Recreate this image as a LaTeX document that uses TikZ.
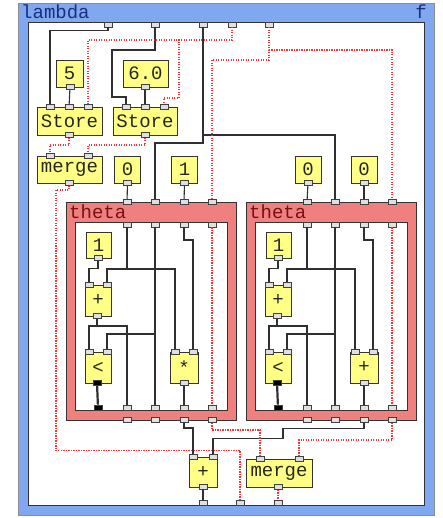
\documentclass[tikz,border=0pt]{standalone}
\usepackage{fontspec}
\setmonofont{Liberation Mono}
\usetikzlibrary{positioning}
\definecolor{LamBlue}{HTML}{7FA8F0}
\definecolor{LamInk}{HTML}{1A2E80}
\definecolor{ThRed}{HTML}{F08080}
\definecolor{ThInk}{HTML}{7A1010}
\definecolor{OpYel}{HTML}{FFFF86}
\definecolor{Wire}{HTML}{303030}
\definecolor{StWire}{HTML}{E83838}

\begin{document}
\begin{tikzpicture}[x=1pt,y=-1pt,font=\ttfamily\fontsize{19}{19}\selectfont,
    port/.style={rectangle,draw=black!75,fill=black!12,line width=0.6pt,
      minimum width=8pt,minimum height=5pt,inner sep=0pt},
    pred/.style={port,fill=black},
    op/.style={rectangle,draw=black!80,fill=OpYel,line width=0.8pt,
      inner sep=0pt,minimum height=28pt,text=black!85},
    val/.style={draw=Wire,line width=1.1pt},
    st/.style={draw=StWire,line width=1.3pt,dash pattern=on 1.2pt off 1.3pt},
    title/.style={anchor=west,inner sep=1pt}]
  \useasboundingbox (0,0) rectangle (442,518);
  % lambda frame
  \filldraw[fill=LamBlue,draw=black!45,line width=0.8pt] (18,3) rectangle (434,515);
  \filldraw[fill=white,draw=black!80,line width=0.9pt] (28,22) rectangle (424,505);
  \node[title,text=LamInk] (lam-name) at (20,12) {lambda};
  \node[inner sep=1pt,text=LamInk] (lam-f) at (421,12) {f};
  \foreach \k/\px in {1/108,2/155,3/203,4/232,5/269}
    \node[port] (lam-a\k) at (\px,24.5) {};
  \foreach \k/\px in {1/203,2/240,3/278}
    \node[port] (lam-r\k) at (\px,502.5) {};

  % constants, stores, merge
  \node[op,minimum width=27pt,minimum height=27pt] (c5) at (69.5,73.5) {5};
  \node[op,minimum width=45pt,minimum height=27pt] (c6) at (145.5,73.5) {6.0};
  \node[port] (c5-o) at (70,87) {};
  \node[port] (c6-o) at (145,87) {};
  \node[op,minimum width=65pt] (st1) at (69.5,121) {Store};
  \node[op,minimum width=64pt] (st2) at (145,121) {Store};
  \foreach \s/\dx in {st1/0,st2/76}{
    \node[port] (\s-i1) at (50+\dx,107) {};
    \node[port] (\s-i2) at (69+\dx,107) {};
    \node[port] (\s-i3) at (88+\dx,107) {};
    \node[port] (\s-o) at (69+\dx,135) {};
  }
  \node[op,minimum width=65pt,minimum height=27pt] (mg1) at (69.5,169.5) {merge};
  \node[port] (mg1-i1) at (50,156) {};
  \node[port] (mg1-i2) at (88,156) {};
  \node[port] (mg1-o) at (69,183) {};
  \foreach \c/\px/\v in {c0a/127.5/0,c1a/184.5/1,c0b/308/0,c0c/364/0}{
    \node[op,minimum width=26pt,minimum height=27pt] (\c) at (\px,169.5) {\v};
    \node[port] (\c-o) at (\px,183) {};
  }

  % theta loops
  \foreach \t/\dx/\fn in {th1/0/{\raisebox{-.3em}{*}},th2/180/+}{
    \begin{scope}[xshift=\dx]
      \filldraw[fill=ThRed,draw=black!80,line width=0.9pt] (66,202) rectangle (236,420);
      \filldraw[fill=white,draw=black!80,line width=0.9pt] (75,222) rectangle (227,410);
      \node[title,text=ThInk] (\t-name) at (68,212) {theta};
      \foreach \k/\px in {1/127,2/155,3/184,4/212}{
        \node[port] (\t-i\k) at (\px,202) {};
        \node[port] (\t-a\k) at (\px,224.5) {};
        \node[port] (\t-r\k) at (\px,407.5) {};
        \node[port] (\t-o\k) at (\px,420) {};
      }
      \node[pred] (\t-p) at (98,407.5) {};
      \node[op,minimum width=25pt,minimum height=26pt] (\t-one) at (98.5,245) {1};
      \node[port] (\t-one-o) at (98,258) {};
      \node[op,minimum width=26pt,minimum height=31pt] (\t-add) at (98,300.5) {+};
      \node[op,minimum width=26pt,minimum height=31pt] (\t-lt) at (98,367.5) {<};
      \node[op,minimum width=28pt,minimum height=31pt] (\t-fn) at (184,367.5) {\fn};
      \node[port] (\t-add-i1) at (89,285) {};
      \node[port] (\t-add-i2) at (107,285) {};
      \node[port] (\t-add-o) at (97,316) {};
      \node[port] (\t-lt-i1) at (89,352) {};
      \node[port] (\t-lt-i2) at (107,352) {};
      \node[pred] (\t-lt-o) at (97,383) {};
      \node[port] (\t-fn-i1) at (175,352) {};
      \node[port] (\t-fn-i2) at (193,352) {};
      \node[port] (\t-fn-o) at (184,383) {};
      \draw[val] (\t-one-o) -- ++(0,10.5) -| (\t-add-i1);
      \draw[val] (\t-a1) -- ++(0,44.5) -| (\t-add-i2);
      \draw[val] (\t-a1) -- ++(0,44.5) -| (\t-fn-i1);
      \draw[val] (\t-add-o) -- ++(0,10) -| (\t-lt-i1);
      \draw[val] (\t-add-o) -- ++(0,10) -| (\t-r1);
      \draw[val] (\t-a2) -- (\t-r2);
      \draw[val] (\t-a2) -- ++(0,109.5) -| (\t-lt-i2);
      \draw[val] (\t-a3) -- ++(0,15.5) -| (\t-fn-i2);
      \draw[val] (\t-fn-o) -- (\t-r3);
      \draw[val,line width=2.2pt] (\t-lt-o) -- (\t-p);
      \draw[st] (\t-a4) -- (\t-r4);
    \end{scope}
  }

  % results
  \node[op,minimum width=28pt,minimum height=30pt] (sum) at (203,472) {+};
  \node[port] (sum-i1) at (193,457) {};
  \node[port] (sum-i2) at (213,457) {};
  \node[port] (sum-o) at (203,487) {};
  \node[op,minimum width=66pt] (mg2) at (279,473) {merge};
  \node[port] (mg2-i1) at (260,459) {};
  \node[port] (mg2-i2) at (299,459) {};
  \node[port] (mg2-o) at (278,487) {};

  \draw[val] (lam-a1) -- ++(0,6) -| (st1-i1);
  \draw[val] (c5-o) -- (st1-i2);
  \draw[val] (lam-a2) -- ++(0,25.5) -- ++(-43,0) -- ++(0,47) -| (st2-i1);
  \draw[val] (c6-o) -- (st2-i2);
  \draw[val] (lam-a3) -- ++(0,118.5) -| (th1-i2);
  \draw[val] (lam-a3) -- ++(0,110.5) -| (th2-i2);
  \draw[st] (lam-a4) -- ++(0,15.5) -| (st1-i3);
  \draw[st] (lam-a4) -- ++(0,15.5) -- ++(-53,0) -- ++(0,58) -| (st2-i3);
  \draw[st] (lam-a5) -- ++(0,35.5) -| (th1-i4);
  \draw[st] (lam-a5) -- ++(0,25.5) -| (th2-i4);
  \draw[st] (st1-o) -- ++(0,10) -| (mg1-i1);
  \draw[st] (st2-o) -- ++(0,10) -| (mg1-i2);
  \draw[st] (mg1-o) -- ++(0,7) -- ++(-13,0) -- ++(0,260.5) -| (lam-r2);
  \draw[val] (c0a-o) -- (th1-i1);
  \draw[val] (c1a-o) -- (th1-i3);
  \draw[val] (c0b-o) -- (th2-i1);
  \draw[val] (c0c-o) -- (th2-i3);
  \draw[val] (th1-o3) -- ++(0,8) -| (sum-i1);
  \draw[val] (th2-o3) -- ++(0,8.5) -- ++(-81,0) -- ++(0,10) -| (sum-i2);
  \draw[st] (th1-o4) -- ++(0,10) -| (mg2-i1);
  \draw[st] (th2-o4) -- ++(0,20) -| (mg2-i2);
  \draw[val] (sum-o) -- (lam-r1);
  \draw[st] (mg2-o) -- (lam-r3);
\end{tikzpicture}
\end{document}
